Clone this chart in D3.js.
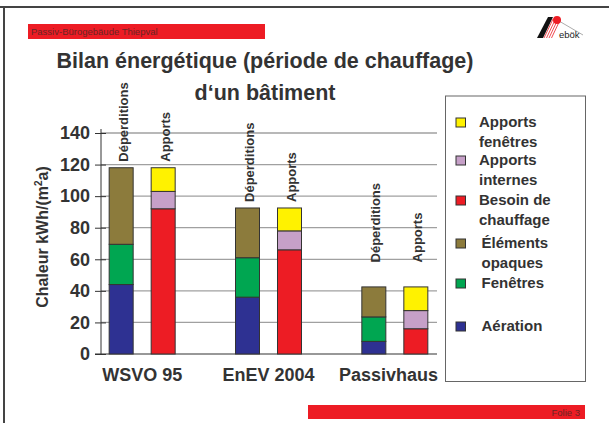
<!DOCTYPE html>
<html><head><meta charset="utf-8">
<script src="https://cdn.jsdelivr.net/npm/d3@7"></script>
<style>
html,body{margin:0;padding:0;background:#fff;}
svg{display:block;font-family:"Liberation Sans",Arial,Helvetica,sans-serif;}
</style></head>
<body>
<svg id="c" width="609" height="423"></svg>
<script>
const categories = ["WSVO 95", "EnEV 2004", "Passivhaus"];
const barKinds = ["Déperditions", "Apports"];
// Déperditions components
const aeration = [44, 36, 8];
const fenetres = [25.5, 25, 15.5];
const opaques = [48.5, 31.5, 19];
// Apports components
const besoin = [92, 66, 16];
const internes = [11, 12, 11.5];
const apportsFen = [15, 14.5, 15];
const yTicks = [0, 20, 40, 60, 80, 100, 120, 140];
const legendItems = [
  {key: "apportsFen", lines: ["Apports", "fenêtres"], color: "#fff200"},
  {key: "internes", lines: ["Apports", "internes"], color: "#c6a0c8"},
  {key: "besoin", lines: ["Besoin de", "chauffage"], color: "#ed1c24"},
  {key: "opaques", lines: ["Éléments", "opaques"], color: "#8c7b3c"},
  {key: "fenetres", lines: ["Fenêtres"], color: "#00a651"},
  {key: "aeration", lines: ["Aération"], color: "#2e3192"}
];
const colorOf = {};
legendItems.forEach(d => colorOf[d.key] = d.color);

const svg = d3.select("#c");
const txt = "#333";

// frame
svg.append("line").attr("x1", 0).attr("x2", 609).attr("y1", 7).attr("y2", 7).attr("stroke", "#444").attr("stroke-width", 2);
svg.append("line").attr("x1", 4).attr("x2", 4).attr("y1", 7).attr("y2", 423).attr("stroke", "#444").attr("stroke-width", 2);

// header bar
svg.append("rect").attr("x", 28).attr("y", 24).attr("width", 237).attr("height", 15).attr("fill", "#ed1c24");
svg.append("text").attr("x", 31).attr("y", 35).attr("font-size", 9.5).attr("fill", "#6a2525").text("Passiv-Bürogebäude Thiepval");

// footer bar
svg.append("rect").attr("x", 308).attr("y", 405).attr("width", 277).attr("height", 14).attr("fill", "#ed1c24");
svg.append("text").attr("x", 580).attr("y", 415.5).attr("font-size", 9.5).attr("text-anchor", "end").attr("fill", "#6a2525").text("Folie 3");

// logo
const lg = svg.append("g");
lg.append("polygon").attr("points", "537,38 548,17 553,17 543,38").attr("fill", "#111");
[0, 2.5, 5, 7.5].forEach(o => lg.append("line").attr("x1", 544 + o).attr("y1", 38).attr("x2", 553 + o).attr("y2", 19).attr("stroke", "#ed1c24").attr("stroke-width", 0.8));
lg.append("line").attr("x1", 559).attr("y1", 21).attr("x2", 583).attr("y2", 35).attr("stroke", "#888").attr("stroke-width", 0.7);
lg.append("circle").attr("cx", 557).attr("cy", 20).attr("r", 4).attr("fill", "#ed1c24");
lg.append("text").attr("x", 559).attr("y", 38).attr("font-size", 9.5).attr("fill", "#222").text("ebök");

// title
svg.append("text").attr("x", 265).attr("y", 68).attr("text-anchor", "middle").attr("font-size", 21.5).attr("font-weight", "bold").attr("fill", txt).text("Bilan énergétique (période de chauffage)");
svg.append("text").attr("x", 265).attr("y", 100).attr("text-anchor", "middle").attr("font-size", 21.5).attr("font-weight", "bold").attr("fill", txt).text("d‘un bâtiment");

// scales
const y = d3.scaleLinear().domain([0, 140]).range([354, 133]);
const x0 = d3.scaleBand().domain(categories).range([79, 458]);
const xIn = d3.scaleBand().domain(barKinds).range([0, 66]).paddingInner(0.4286);
const plotLeft = 101, plotRight = 437;
const barX = (cat, kind) => x0(cat) + x0.bandwidth() / 2 - 33 + xIn(kind);

// gridlines
svg.append("g").selectAll("line").data(yTicks.filter(t => t > 0)).join("line")
  .attr("x1", plotLeft).attr("x2", plotRight).attr("y1", d => y(d)).attr("y2", d => y(d))
  .attr("stroke", "#a0a0a0").attr("stroke-width", 1.3);

// y axis
const ya = svg.append("g").attr("transform", `translate(${plotLeft},0)`)
  .call(d3.axisLeft(y).tickValues(yTicks).tickSize(6).tickPadding(6));
ya.select(".domain").attr("stroke", "#333").attr("d", `M0,${y(140) - 4}V${y(0)}`);
ya.selectAll(".tick line").attr("x1", 5).attr("stroke", "#333");
ya.selectAll(".tick text").attr("font-size", 18).attr("font-weight", "bold").attr("fill", txt)
  .attr("font-family", "Liberation Sans, Arial, sans-serif").attr("x", -11);

// x baseline
svg.append("line").attr("x1", plotLeft - 6).attr("x2", plotRight).attr("y1", y(0)).attr("y2", y(0)).attr("stroke", "#333").attr("stroke-width", 1.2);

// data table for stacks
const table = categories.map((c, i) => ({cat: c, aeration: aeration[i], fenetres: fenetres[i], opaques: opaques[i], besoin: besoin[i], internes: internes[i], apportsFen: apportsFen[i]}));
const depStack = d3.stack().keys(["aeration", "fenetres", "opaques"])(table);
const appStack = d3.stack().keys(["besoin", "internes", "apportsFen"])(table);

function drawStack(stack, kind) {
  const g = svg.append("g");
  stack.forEach(layer => {
    g.selectAll(null).data(layer).join("rect")
      .attr("x", d => barX(d.data.cat, kind))
      .attr("width", xIn.bandwidth())
      .attr("y", d => y(d[1]))
      .attr("height", d => y(d[0]) - y(d[1]))
      .attr("fill", colorOf[layer.key])
      .attr("stroke", "#333").attr("stroke-width", 1);
  });
  // rotated labels
  const tops = stack[stack.length - 1];
  tops.forEach(d => {
    const cx = barX(d.data.cat, kind) + xIn.bandwidth() / 2 + 2;
    const yb = Math.min(y(d[1]) - 6, y(58));
    svg.append("text").attr("transform", `translate(${cx + 4.5},${yb}) rotate(-90)`)
      .attr("font-size", 13).attr("font-weight", "bold").attr("fill", txt).text(kind);
  });
}
drawStack(depStack, "Déperditions");
drawStack(appStack, "Apports");

// category labels
categories.forEach(c => {
  const t = svg.append("text").attr("y", 381).attr("font-size", 18).attr("font-weight", "bold")
    .attr("fill", txt).attr("text-anchor", "middle").text(c);
  const w = t.node().getComputedTextLength();
  const cx = Math.min(x0(c) + x0.bandwidth() / 2, plotRight + 1 - w / 2);
  t.attr("x", cx);
});

// y axis title
svg.append("text").attr("transform", "translate(48,237) rotate(-90)").attr("text-anchor", "middle")
  .attr("font-size", 16).attr("font-weight", "bold").attr("fill", txt)
  .call(t => { t.append("tspan").text("Chaleur kWh/(m"); t.append("tspan").attr("font-size", 10).attr("dy", -6).text("2"); t.append("tspan").attr("dy", 6).text("a)"); });

// legend
svg.append("rect").attr("x", 445.5).attr("y", 96).attr("width", 140).attr("height", 285.5)
  .attr("fill", "#fff").attr("stroke", "#666").attr("stroke-width", 1);
const legendY = [127, 165, 205, 248, 288, 331];
legendItems.forEach((d, i) => {
  const by = legendY[i];
  svg.append("rect").attr("x", 456).attr("y", by - 9).attr("width", 9.5).attr("height", 9)
    .attr("fill", d.color).attr("stroke", "#333").attr("stroke-width", 1);
  const tx = i < 3 ? 479 : 481.5;
  d.lines.forEach((l, j) => {
    svg.append("text").attr("x", tx).attr("y", by + j * 19.5).attr("font-size", 15).attr("font-weight", "bold")
      .attr("fill", txt).text(l);
  });
});
</script>
</body></html>
